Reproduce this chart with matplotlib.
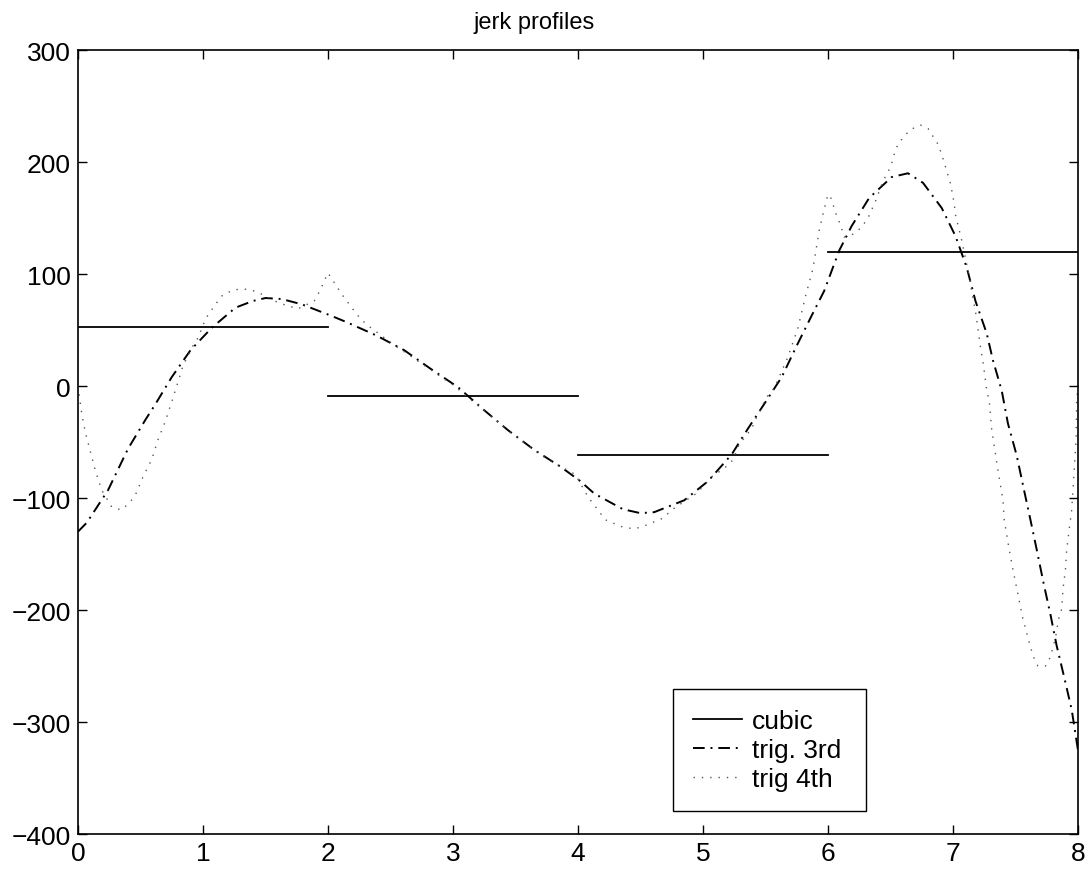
import numpy as np
import matplotlib.pyplot as plt

plt.rcParams['font.family'] = ['Liberation Sans', 'DejaVu Sans']

# cubic: piecewise constant jerk
cubic_knots = [0, 2, 4, 6, 8]
cubic_levels = [53, -9, -62, 120]

# trig. 3rd (dash-dot)
t3_x = [0.00, 0.07, 0.24, 0.40, 0.54, 0.62, 0.75, 0.90, 1.07, 1.26, 1.40, 1.50,
        1.63, 1.79, 2.02, 2.15, 2.39, 2.61, 2.82, 3.04, 3.25, 3.44, 3.65, 3.86,
        4.02, 4.13, 4.36, 4.50, 4.61, 4.85, 5.04, 5.23, 5.36, 5.49, 5.63, 5.75,
        5.87, 5.97, 6.09, 6.19, 6.33, 6.51, 6.64, 6.76, 6.91, 7.02, 7.11, 7.18,
        7.27, 7.32, 7.39, 7.44, 7.51, 7.565, 7.62, 7.67, 7.725, 7.78, 7.83, 7.89,
        7.95, 8.00]
t3_y = [-130, -122, -93, -56, -30, -16, 8, 32, 52, 70, 76, 78.6,
        77.7, 73, 63, 57, 45, 32, 15.5, -1, -21.6, -39.4, -57, -72,
        -85, -96, -110, -113.5, -112.6, -102, -85, -61, -38, -16, 8, 36,
        63, 85, 121, 143, 168, 186.6, 190, 181.5, 159, 134, 106, 76,
        47, 23, -4, -33.5, -62, -91, -119.5, -146, -176, -204, -232, -260,
        -289, -325]

# trig 4th (dotted)
t4_x = [0.00, 0.03, 0.06, 0.10, 0.14, 0.19, 0.27, 0.345, 0.41, 0.46, 0.52, 0.59,
        0.64, 0.70, 0.75, 0.80, 0.84, 0.92, 0.96, 1.02, 1.10, 1.16, 1.25, 1.33,
        1.39, 1.47, 1.61, 1.76, 1.89, 1.94, 1.97, 2.00, 2.11, 2.21, 2.26, 2.32,
        2.50, 2.75, 3.00, 3.25, 3.50, 3.75, 3.98, 4.08, 4.22, 4.36, 4.45, 4.52,
        4.68, 4.75, 4.95, 5.07, 5.17, 5.24, 5.29, 5.39, 5.43, 5.51, 5.57, 5.68,
        5.76, 5.82, 5.88, 5.93, 5.97, 6.00, 6.02, 6.07, 6.10, 6.13, 6.21, 6.27,
        6.32, 6.38, 6.44, 6.48, 6.51, 6.53, 6.56, 6.61, 6.66, 6.74, 6.80, 6.88,
        6.91, 6.98, 7.01, 7.02, 7.07, 7.14, 7.15, 7.18, 7.19, 7.22, 7.24, 7.26,
        7.27, 7.29, 7.31, 7.36, 7.40, 7.41, 7.45, 7.48, 7.56, 7.58, 7.60, 7.62,
        7.645, 7.68, 7.74, 7.78, 7.82, 7.845, 7.87, 7.88, 7.90, 7.91, 7.93, 7.95,
        7.96, 7.97, 7.98, 7.985, 7.99, 8.00]
t4_y = [0, -25, -42, -59, -76, -93, -108, -110.6, -104.6, -97, -81, -65.5,
        -48, -31, -14, 3.6, 18, 36, 43, 60, 73, 81.6, 86, 86.6,
        85.7, 82, 74, 69, 76, 86, 94, 101, 82, 67, 60, 54,
        39, 20, 1, -22, -45, -65, -79, -99, -119.5, -126, -127.5, -125.4,
        -118, -110.6, -95.7, -81, -73.5, -66, -52, -38, -27.6, -10, -2, 26,
        52, 80, 105, 139, 158, 171, 169, 152, 144, 133, 136, 142,
        150, 165, 183, 191, 199, 207, 216, 223, 229, 233, 230, 216,
        207, 181, 163, 153, 130, 93, 84, 67, 59, 35, 22, 5,
        -4, -13, -39, -75, -102, -119.5, -146, -164, -208, -216, -224.5, -233,
        -242, -250, -250, -242, -225, -208, -199, -181.5, -164, -146, -128, -110.6,
        -93, -75, -57, -48, -13, 0]

fig = plt.figure(figsize=(10.85, 8.7), dpi=100)
ax = fig.add_axes([0.0719, 0.0402, 0.9216, 0.9011])

for i in range(len(cubic_levels)):
    ax.plot([cubic_knots[i], cubic_knots[i + 1]], [cubic_levels[i], cubic_levels[i]],
            '-', color='black', lw=1.3, label='cubic' if i == 0 else None)
ax.plot(t3_x, t3_y, color='black', lw=1.4, linestyle=(0, (6, 3, 1, 3)), label='trig. 3rd')
ax.plot(t4_x, t4_y, color='#555555', lw=1.0, linestyle=(0, (1, 5)), label='trig 4th')

ax.set_xlim(0, 8)
ax.set_ylim(-400, 300)
ax.set_xticks(range(0, 9))
ax.set_yticks(range(-400, 301, 100))
ax.tick_params(direction='in', top=True, right=True, length=6.5, width=1,
               labelsize=19, pad=5)
for s in ax.spines.values():
    s.set_linewidth(1.2)

ax.set_title('jerk profiles', fontsize=17, x=0.456, pad=16)

leg = ax.legend(loc='lower left', bbox_to_anchor=(0.595, 0.029, 0.193, 0.16),
                mode='expand', fontsize=19, fancybox=False, framealpha=1,
                edgecolor='black', handlelength=1.85, labelspacing=0.2,
                borderpad=0.75, handletextpad=0.4, borderaxespad=0)
leg.get_frame().set_linewidth(1.0)

fig.savefig('out.png', dpi=100)
